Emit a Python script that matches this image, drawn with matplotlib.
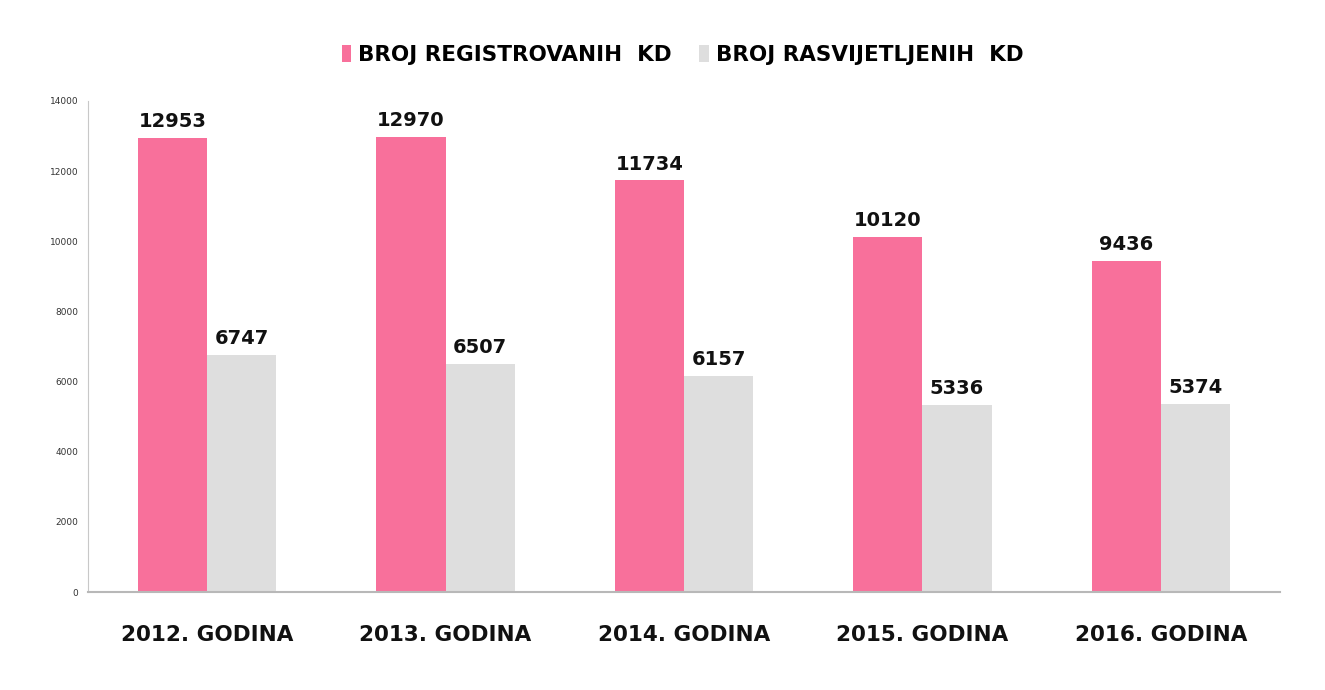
import numpy as np
import matplotlib.pyplot as plt

plt.rcParams['font.family'] = ['DejaVu Sans']

Godine = ["2012. GODINA", "2013. GODINA", "2014. GODINA", "2015. GODINA", "2016. GODINA"]
Registrovani = [12953, 12970, 11734, 10120, 9436]
Rasvijetljeni = [6747, 6507, 6157, 5336, 5374]
NazivReg = "BROJ REGISTROVANIH  KD"
NazivRas = "BROJ RASVIJETLJENIH  KD"

Pink = "#F8709B"
Grey = "#DEDEDE"

fig = plt.figure(figsize=(13.25, 6.9), dpi=100)
ax = fig.add_axes([88/1325, 1-592/690, (1280-88)/1325, (592-101)/690])

x = np.arange(len(Godine))
w = 0.29
b1 = ax.bar(x - w/2, Registrovani, w, color=Pink, label=NazivReg)
b2 = ax.bar(x + w/2, Rasvijetljeni, w, color=Grey, label=NazivRas)

#value labels above bars
for Bars in (b1, b2):
    for r in Bars:
        ax.annotate(str(int(r.get_height())), (r.get_x()+r.get_width()/2, r.get_height()),
                    xytext=(0, 5), textcoords="offset points", ha="center", va="bottom",
                    fontsize=14, fontweight="bold", color="#111111")

ax.set_xlim(-0.5, 4.5)
ax.set_ylim(0, 14000)
ax.set_yticks(np.arange(0, 14001, 2000))
ax.tick_params(axis="y", labelsize=6.5, colors="#333333", length=0, pad=7)
ax.set_xticks(x)
ax.set_xticklabels(Godine, fontsize=15.5, fontweight="bold", color="#111111")
ax.tick_params(axis="x", length=0, pad=24)

for s in ("top", "right"):
    ax.spines[s].set_visible(False)
ax.spines["left"].set_color("#C8C8C8")
ax.spines["bottom"].set_color("#B8B8B8")
ax.spines["bottom"].set_linewidth(1.5)

fig.legend(handles=[b1, b2], loc="center", bbox_to_anchor=(0.515, 1-55/690), ncol=2, frameon=False,
           prop={"weight": "bold", "size": 15.5}, handlelength=0.45, handleheight=0.8,
           handletextpad=0.3, columnspacing=1.3)

fig.savefig("out.png", dpi=100)
